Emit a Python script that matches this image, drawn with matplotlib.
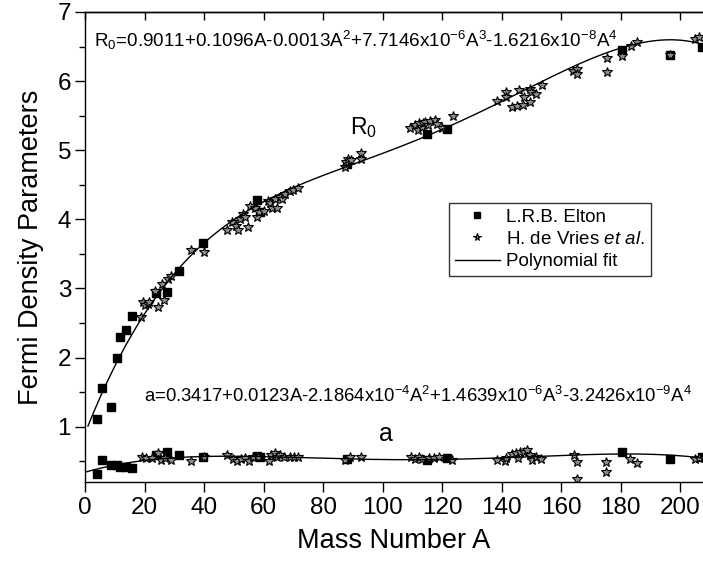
import numpy as np
import matplotlib
matplotlib.use("Agg")
import matplotlib.pyplot as plt

plt.rcParams['font.family'] = ['Liberation Sans', 'DejaVu Sans']
plt.rcParams['mathtext.fontset'] = 'custom'
plt.rcParams['mathtext.rm'] = 'Liberation Sans'
plt.rcParams['mathtext.it'] = 'Liberation Sans:italic'

# L.R.B. Elton
elton_A = [3.9, 5.8, 8.8, 10.6, 11.8, 13.8, 15.9, 23.9, 27.7, 31.6, 39.8, 57.7, 58.8,
           88.0, 114.8, 121.6, 180.6, 196.7, 207.3]
elton_R0 = [1.11, 1.56, 1.29, 2.00, 2.30, 2.40, 2.60, 2.94, 2.95, 3.26, 3.66, 4.28, 4.10,
            4.80, 5.24, 5.31, 6.45, 6.38, 6.50]
elton_a = [0.32, 0.52, 0.44, 0.44, 0.42, 0.42, 0.40, 0.59, 0.63, 0.59, 0.56, 0.57, 0.56,
           0.53, 0.52, 0.55, 0.64, 0.53, 0.56]

# H. de Vries et al. -- R0
vries_A_R0 = [18.8, 19.6, 20.2, 21.3, 21.6, 23.5, 24.6, 26.0, 26.7, 27.8, 28.9,
              35.7, 39.9,
              47.6, 49.3, 50.8, 51.5, 52.1, 53.2, 53.8, 54.9, 55.5, 57.1, 57.7, 58.6, 60.0,
              61.6, 62.2, 62.8, 63.9, 64.4, 65.5, 66.3, 67.2, 68.9, 70.0, 71.7,
              87.4, 87.6, 88.5, 89.5, 92.7, 92.7,
              109.2, 110.9, 112.0, 112.3, 113.2, 113.7, 114.3, 115.4, 116.0, 117.6, 118.2, 119.9, 123.8,
              138.4, 141.5, 141.5, 143.4, 145.1, 145.7, 147.3, 147.6, 149.4, 149.6, 150.0, 151.6, 153.5,
              164.1, 165.3, 165.3, 175.6, 175.6, 180.6, 183.5, 185.4, 196.7, 205.0, 206.5]
vries_R0 = [2.59, 2.80, 2.76, 2.78, 2.80, 2.97, 2.73, 3.06, 2.83, 3.14, 3.18,
            3.55, 3.53,
            3.85, 3.96, 3.91, 3.85, 4.00, 4.08, 4.03, 3.89, 4.20, 4.16, 4.03, 4.10, 4.12,
            4.26, 4.23, 4.17, 4.30, 4.16, 4.32, 4.30, 4.37, 4.41, 4.43, 4.46,
            4.76, 4.83, 4.88, 4.86, 4.96, 4.88,
            5.32, 5.36, 5.29, 5.39, 5.33, 5.39, 5.41, 5.36, 5.43, 5.44, 5.38, 5.32, 5.49,
            5.71, 5.84, 5.77, 5.62, 5.64, 5.87, 5.65, 5.77, 5.88, 5.70, 5.84, 5.81, 5.94,
            6.14, 6.18, 6.11, 6.33, 6.13, 6.37, 6.51, 6.57, 6.38, 6.61, 6.64]

# H. de Vries et al. -- a
vries_A_a = [19.1, 20.4, 22.4, 24.4, 25.7, 27.0, 28.8, 35.7, 40.0,
             47.7, 49.7, 51.0, 52.4, 53.7, 55.0, 56.4, 58.1, 61.7, 62.4, 63.7, 64.4, 65.7,
             67.0, 69.0, 70.4, 71.7, 87.4, 89.0, 92.7,
             109.7, 111.0, 112.3, 113.3, 115.7, 117.3, 119.0, 123.4,
             138.3, 141.3, 141.6, 143.4, 144.7, 145.6, 146.3, 147.6, 148.7, 149.6, 150.3,
             151.6, 153.2, 164.3, 165.2, 165.2, 175.2, 175.2, 183.0, 185.4, 204.9, 206.3]
vries_a = [0.565, 0.55, 0.55, 0.615, 0.525, 0.55, 0.515, 0.50, 0.565,
           0.59, 0.54, 0.50, 0.53, 0.55, 0.50, 0.565, 0.565, 0.50, 0.59, 0.615, 0.565, 0.59,
           0.555, 0.555, 0.565, 0.565, 0.515, 0.565, 0.555,
           0.565, 0.54, 0.565, 0.53, 0.55, 0.55, 0.565, 0.525,
           0.525, 0.50, 0.55, 0.60, 0.615, 0.55, 0.64, 0.64, 0.665, 0.59, 0.515,
           0.565, 0.53, 0.59, 0.49, 0.25, 0.49, 0.35, 0.53, 0.48, 0.54, 0.55]

# polynomial fit coefficients as printed on the chart (c0..c4)
fit_R0 = [0.9011, 0.1096, -0.0013, 7.7146e-6, -1.6216e-8]
fit_a = [0.3417, 0.0123, -2.1864e-4, 1.4639e-6, -3.2426e-9]

fig = plt.figure(figsize=(7.03, 5.61), dpi=100)
ax = fig.add_axes([85 / 703, (561 - 482) / 561, (703 - 85) / 703, (482 - 12) / 561])

ax.plot(elton_A, elton_R0, 's', color='black', ms=6.3, label='L.R.B. Elton', zorder=2)
ax.plot(elton_A, elton_a, 's', color='black', ms=6.3, zorder=2)
ax.plot(vries_A_R0, vries_R0, '*', mfc='#8c8c8c', mec='black', mew=0.8, ms=7.2,
        label='H. de Vries $\\it{et\\ al.}$', zorder=3)
ax.plot(vries_A_a, vries_a, '*', mfc='#8c8c8c', mec='black', mew=0.8, ms=7.2, zorder=3)

A1 = np.linspace(1, 210, 400)
A0 = np.linspace(0, 210, 400)
ax.plot(A1, np.polynomial.polynomial.polyval(A1, fit_R0), '-', color='black', lw=1.0,
        label='Polynomial fit', zorder=4)
ax.plot(A0, np.polynomial.polynomial.polyval(A0, fit_a), '-', color='black', lw=1.0, zorder=4)

ax.set_xlim(0, 207.7)
ax.set_ylim(0.2, 7)
ax.set_xticks(np.arange(0, 201, 20))
ax.set_yticks(np.arange(1, 8, 1))
ax.set_yticks(np.arange(0.5, 7.0, 0.5), minor=True)
ax.tick_params(axis='both', which='major', labelsize=17.5, length=7, width=1.0, direction='out')
ax.tick_params(axis='x', which='major', pad=4)
ax.tick_params(axis='y', which='major', pad=3)
ax.tick_params(axis='y', which='minor', length=4, width=1.0, direction='out')
ax.spines['right'].set_visible(False)
for s in ['left', 'bottom', 'top']:
    ax.spines[s].set_linewidth(1.0)

top = ax.secondary_xaxis('top')
top.set_xticks(np.arange(0, 201, 20))
top.tick_params(direction='in', length=6, width=1.0, labeltop=False)
top.spines['top'].set_linewidth(1.0)

ax.set_xlabel('Mass Number A', fontsize=19.5, labelpad=6)
ax.set_ylabel('Fermi Density Parameters', fontsize=19.5, labelpad=10)

ax.text(3.0, 6.5, 'R$_0$=0.9011+0.1096A-0.0013A$^2$+7.7146x10$^{-6}$A$^3$-1.6216x10$^{-8}$A$^4$',
        fontsize=13.6, ha='left', va='baseline')
ax.text(19.7, 1.36, 'a=0.3417+0.0123A-2.1864x10$^{-4}$A$^2$+1.4639x10$^{-6}$A$^3$-3.2426x10$^{-9}$A$^4$',
        fontsize=13.3, ha='left', va='baseline')
ax.text(89.0, 5.23, 'R$_0$', fontsize=16.5, ha='left', va='baseline')
ax.text(101.0, 0.9, 'a', fontsize=18, ha='center', va='center')

leg = ax.legend(loc='upper left', bbox_to_anchor=(0.589, 0.594), borderaxespad=0,
                fontsize=13.5, frameon=True, fancybox=False, edgecolor='black',
                handlelength=2.4, handletextpad=0.35, labelspacing=0.28,
                borderpad=0.3, markerscale=0.75)
leg.get_frame().set_linewidth(1.0)

fig.savefig('out.png', dpi=100)
